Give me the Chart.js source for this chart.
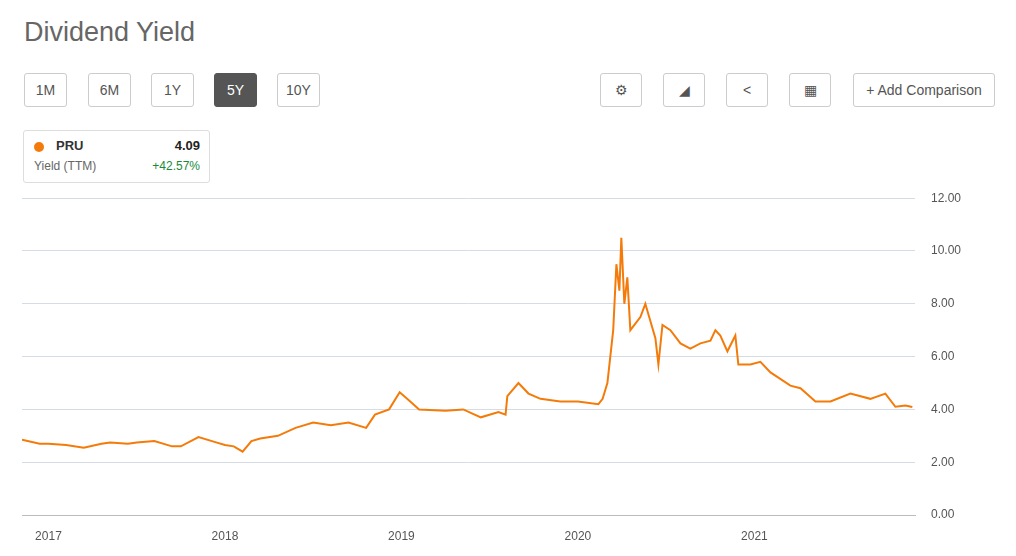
<!DOCTYPE html><html><head><meta charset="utf-8">
<script src="https://cdn.jsdelivr.net/npm/chart.js@4"></script>
<style>
body{margin:0;width:1016px;height:556px;position:relative;font-family:"Liberation Sans",Arial,sans-serif;background:#fff;overflow:hidden}
h1{position:absolute;left:24px;top:17px;margin:0;font-weight:400;font-size:27px;color:#666}
.b{position:absolute;top:73px;height:34px;border:1px solid #ccc;border-radius:3px;font-size:14px;color:#555;display:flex;align-items:center;justify-content:center;box-sizing:border-box;background:#fff}
.b.on{background:#555;color:#fff;border-color:#555}
.leg{position:absolute;left:23px;top:130px;width:187px;height:53px;border:1px solid #ddd;border-radius:3px;box-sizing:border-box;font-size:12px}
#wrap{position:absolute;left:0;top:175px;width:1016px;height:381px}
</style></head><body>
<h1>Dividend Yield</h1>
<div class="b" style="left:24px;width:43px">1M</div>
<div class="b" style="left:88px;width:43px">6M</div>
<div class="b" style="left:151px;width:43px">1Y</div>
<div class="b on" style="left:214px;width:43px">5Y</div>
<div class="b" style="left:277px;width:43px">10Y</div>
<div class="b" style="left:600px;width:42px">⚙</div>
<div class="b" style="left:663px;width:42px">◢</div>
<div class="b" style="left:726px;width:42px">&lt;</div>
<div class="b" style="left:789px;width:42px">▦</div>
<div class="b" style="left:853px;width:142px">+ Add Comparison</div>
<div class="leg">
<div style="position:absolute;left:10px;top:11px;width:10px;height:10px;border-radius:50%;background:#f47b0a"></div>
<div style="position:absolute;left:32px;top:7px;font-weight:700;color:#333;font-size:13px">PRU</div>
<div style="position:absolute;right:9px;top:7px;font-weight:700;color:#222;font-size:13px">4.09</div>
<div style="position:absolute;left:10px;top:28px;color:#666">Yield (TTM)</div>
<div style="position:absolute;right:9px;top:28px;color:#1a8a3a">+42.57%</div>
</div>
<div id="wrap"><canvas id="c"></canvas></div>
<script>
const years=[2016.85,2016.95,2017.0,2017.1,2017.2,2017.3,2017.35,2017.45,2017.5,2017.6,2017.7,2017.75,2017.85,2017.95,2018.0,2018.05,2018.1,2018.15,2018.2,2018.3,2018.4,2018.5,2018.6,2018.7,2018.8,2018.85,2018.93,2018.99,2019.05,2019.1,2019.25,2019.35,2019.45,2019.55,2019.59,2019.60,2019.663,2019.72,2019.788,2019.9,2020.0,2020.116,2020.14,2020.167,2020.20,2020.218,2020.235,2020.246,2020.263,2020.28,2020.297,2020.354,2020.382,2020.439,2020.456,2020.479,2020.524,2020.581,2020.637,2020.694,2020.751,2020.779,2020.807,2020.847,2020.892,2020.909,2020.977,2021.034,2021.091,2021.204,2021.261,2021.346,2021.431,2021.544,2021.657,2021.742,2021.799,2021.856,2021.895];
const yields=[2.85,2.7,2.7,2.65,2.55,2.7,2.75,2.7,2.75,2.8,2.6,2.6,2.95,2.75,2.65,2.6,2.4,2.8,2.9,3.0,3.3,3.5,3.4,3.5,3.3,3.8,4.0,4.65,4.3,4.0,3.95,4.0,3.7,3.9,3.8,4.5,5.0,4.6,4.4,4.3,4.3,4.2,4.4,5.0,7.0,9.5,8.5,10.5,8.0,9.0,7.0,7.5,8.0,6.7,5.7,7.2,7.0,6.5,6.3,6.5,6.6,7.0,6.8,6.2,6.8,5.7,5.7,5.8,5.4,4.9,4.8,4.3,4.3,4.6,4.4,4.6,4.1,4.15,4.09];
const yTicks=[0,2,4,6,8,10,12];
const xTicks=[2017,2018,2019,2020,2021];
new Chart(document.getElementById('c'),{type:'line',
data:{datasets:[{data:years.map((x,i)=>({x,y:yields[i]})),borderColor:'#f47b0a',borderWidth:2,pointRadius:0,tension:0}]},
options:{animation:false,responsive:true,maintainAspectRatio:false,
layout:{padding:{left:22,top:8,right:0,bottom:0}},
plugins:{legend:{display:false},tooltip:{enabled:false}},
scales:{
x:{type:'linear',min:2016.85,max:2021.91,afterBuildTicks:s=>{s.ticks=xTicks.map(v=>({value:v}))},
afterFit:s=>{s.height=41},
grid:{display:false},border:{color:'#bbb'},
ticks:{callback:v=>String(v),color:'#555',font:{size:12,family:'Liberation Sans'},maxRotation:0,padding:6}},
y:{position:'right',min:0,max:12,afterBuildTicks:s=>{s.ticks=yTicks.map(v=>({value:v}))},
afterFit:s=>{s.width=101},
grid:{color:'#d5dce6',drawTicks:false},border:{display:false},
ticks:{callback:v=>v.toFixed(2),color:'#555',font:{size:12,family:'Liberation Sans'},padding:16}}
}}});
</script></body></html>
